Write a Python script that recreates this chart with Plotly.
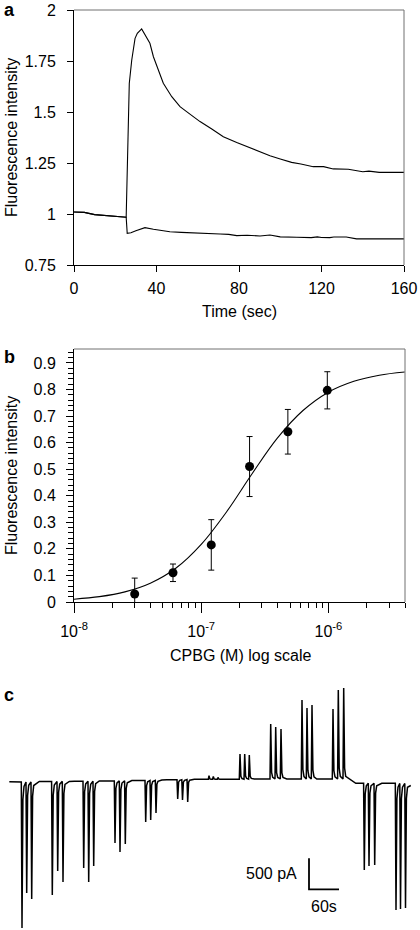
import numpy as np
import plotly.graph_objects as go

# ---------------- Panel a data ----------------
t_upper = [0, 5, 10, 15, 20, 24, 25.3, 26.8, 28, 29.6, 30.7, 32.8, 35.2, 36.8, 38.5, 40.9, 43.3,
           47.4, 51.4, 54.6, 61.1, 66.8, 72.4, 78.9, 86.9, 95, 100, 105.5, 110, 116, 121, 125.7,
           133, 140, 143, 148, 160]
f_upper = [1.01, 1.008, 0.997, 0.993, 0.987, 0.984, 0.984, 1.64, 1.755, 1.861, 1.886, 1.907, 1.869,
           1.837, 1.771, 1.706, 1.641, 1.575, 1.526, 1.502, 1.453, 1.417, 1.379, 1.35, 1.317, 1.286,
           1.27, 1.253, 1.245, 1.232, 1.232, 1.221, 1.219, 1.207, 1.21, 1.204, 1.204]

t_lower = [0, 5, 10, 15, 20, 24, 25.3, 25.8, 27.6, 30, 32, 34.4, 38.5, 42, 46.5, 52, 59.5, 65, 70.8,
           75, 78.9, 84, 90.2, 95, 100, 108, 115, 118, 120, 124, 126, 132, 137, 145, 160]
f_lower = [1.01, 1.008, 0.997, 0.993, 0.987, 0.984, 0.984, 0.905, 0.908, 0.918, 0.926, 0.933, 0.925,
           0.92, 0.913, 0.91, 0.908, 0.905, 0.902, 0.9, 0.894, 0.896, 0.892, 0.897, 0.888, 0.886,
           0.884, 0.888, 0.885, 0.884, 0.887, 0.887, 0.878, 0.878, 0.878]

a_xticks = [0, 40, 80, 120, 160]
a_yticks = [0.75, 1, 1.25, 1.5, 1.75, 2]
a_yticklabels = ["0.75", "1", "1.25", "1.5", "1.75", "2"]

# ---------------- Panel b data ----------------
cpbg_conc = [3e-8, 6e-8, 1.2e-7, 2.4e-7, 4.8e-7, 9.8e-7]
cpbg_resp = [0.03, 0.11, 0.215, 0.51, 0.641, 0.797]
cpbg_err = [0.06, 0.033, 0.095, 0.113, 0.084, 0.07]

fit_conc = [1e-8, 1.585e-8, 2.512e-8, 3.981e-8, 6.31e-8, 1e-7, 1.585e-7, 2.512e-7, 3.981e-7,
            6.31e-7, 1e-6, 1.585e-6, 2.512e-6, 3.981e-6]
fit_resp = [0.0106, 0.0201, 0.0381, 0.0708, 0.127, 0.217, 0.340, 0.483, 0.618, 0.721, 0.790,
            0.831, 0.854, 0.866]

b_yticks = [0, 0.1, 0.2, 0.3, 0.4, 0.5, 0.6, 0.7, 0.8, 0.9]
b_yticklabels = ["0", "0.1", "0.2", "0.3", "0.4", "0.5", "0.6", "0.7", "0.8", "0.9"]
b_xticks = [1e-8, 1e-7, 1e-6]
b_xticklabels = ["10<sup>-8</sup>", "10<sup>-7</sup>", "10<sup>-6</sup>"]
b_xminor = [m * d for d in (1e-8, 1e-7) for m in range(2, 10)] + [2e-6, 3e-6, 4e-6]

# ---------------- Panel c data (time s, current pA) ----------------
spike_t = [25.4, 34.8, 44.8, 86, 96.8, 107.4, 148.8, 158.8, 168.8, 211.4, 221.4, 232,
           272.8, 282.8, 293.4, 336.8, 346.4, 356.8, 399.4, 408, 417.4, 461.4, 470.8, 480,
           522.8, 532.8, 543.4, 585.4, 595.4, 605.4, 647.4, 658, 668.8, 710, 719.4, 730.8,
           773.4, 782.4, 792.4]
spike_peak = [-2360, -1795, -1892, -1828, -1440, -1618, -1392, -1618, -1360, -989, -1134, -1005,
              -650, -618, -505, -279, -295, -327, 97, 84, 68, 447, 447, 431,
              931, 882, 850, 1318, 1189, 1237, 1173, 1479, 1511, -1424, -1360, -1344,
              -2070, -2053, -2037]
spike_base = [-5, -5, -5, 3, 4, 5, 6, 7, 8, 12, 13, 14, 19, 20, 22, 30, 32, 34, 39, 39, 39,
              39, 40, 41, 44, 44, 44, 44, 44, 44, 44, 44, 44, -26, -26, -26, -27, -28, -29]

base_t = [0, 20, 60, 70, 120, 130, 180, 190, 245, 255, 305, 315, 370, 395, 425, 450, 490, 510,
          555, 575, 615, 640, 680, 685, 693, 700, 745, 765, 803]
base_I = [0, -5, 3, 3, 5, 6, 11, 12, 19, 19, 28, 30, 39, 39, 39, 39, 42, 44, 44, 44, 44, 44, 44,
          11, -26, -26, -26, -27, -61]

scale_t = 60     # s
scale_pA = 500   # pA

# ---------------- build panel c trace ----------------
pts = list(zip(base_t, base_I))
for t, p, b in zip(spike_t, spike_peak, spike_base):
    amp = p - b
    pts += [(t - 1.4, b), (t, p), (t + 1.8, b + 0.12 * amp), (t + 4.0, b + 0.03 * amp)]
pts.sort(key=lambda q: q[0])
c_t = [q[0] for q in pts]
c_I = [q[1] for q in pts]

W, H = 420, 930
FONT = "Liberation Sans, Arial, Helvetica, sans-serif"
FS = 16


def fx(px):
    return px / W


def fy(py):
    return 1 - py / H


fig = go.Figure()

# panel a
fig.add_trace(go.Scatter(x=t_upper, y=f_upper, mode="lines", line=dict(color="black", width=1.1),
                         xaxis="x", yaxis="y", showlegend=False))
fig.add_trace(go.Scatter(x=t_lower, y=f_lower, mode="lines", line=dict(color="black", width=1.1),
                         xaxis="x", yaxis="y", showlegend=False))

# panel b
fig.add_trace(go.Scatter(x=fit_conc, y=fit_resp, mode="lines", line=dict(color="black", width=1.1, shape="spline"),
                         xaxis="x2", yaxis="y2", showlegend=False))
fig.add_trace(go.Scatter(x=cpbg_conc, y=cpbg_resp, mode="markers",
                         marker=dict(color="black", size=9),
                         error_y=dict(type="data", array=cpbg_err, color="black", thickness=1, width=3),
                         xaxis="x2", yaxis="y2", showlegend=False))

# panel c
fig.add_trace(go.Scatter(x=c_t, y=c_I, mode="lines", line=dict(color="black", width=1.5),
                         xaxis="x3", yaxis="y3", showlegend=False))
sb_t0 = 599.4
sb_I0 = -1736
fig.add_trace(go.Scatter(x=[sb_t0, sb_t0, sb_t0 + scale_t], y=[sb_I0 + scale_pA, sb_I0, sb_I0],
                         mode="lines", line=dict(color="black", width=1.8),
                         xaxis="x3", yaxis="y3", showlegend=False))

tickfont = dict(family=FONT, size=FS, color="black")
common = dict(showline=True, linecolor="black", linewidth=1, ticks="outside", tickcolor="black",
              tickwidth=1, showgrid=False, zeroline=False, automargin=False, tickfont=tickfont)

fig.update_layout(
    width=W, height=H,
    margin=dict(l=0, r=0, t=0, b=0),
    paper_bgcolor="white", plot_bgcolor="white",
    font=dict(family=FONT, size=FS, color="black"),
    xaxis=dict(domain=[fx(74), fx(404)], range=[0, 160], tickmode="array", tickvals=a_xticks,
               ticklen=6, anchor="y", ticklabelstandoff=3, **common),
    yaxis=dict(domain=[fy(265), fy(10)], range=[0.75, 2], tickmode="array", tickvals=a_yticks,
               ticktext=a_yticklabels, ticklen=6, anchor="x", ticklabelstandoff=8, **common),
    xaxis2=dict(domain=[fx(74), fx(405)], type="log", range=[-8, np.log10(4e-6)], tickmode="array",
                tickvals=b_xticks, ticktext=b_xticklabels, ticklen=10, anchor="y2", ticklabelstandoff=5,
                minor=dict(tickmode="array", tickvals=b_xminor, ticklen=5, ticks="outside",
                           tickcolor="black", tickwidth=1, showgrid=False),
                **common),
    yaxis2=dict(domain=[fy(602), fy(349)], range=[0, 0.9526], tickmode="array", tickvals=b_yticks,
                ticktext=b_yticklabels, ticklen=7, anchor="x2", ticklabelstandoff=7,
                minor=dict(dtick=0.02, tick0=0, ticklen=5, ticks="outside", tickcolor="black",
                           tickwidth=1, showgrid=False),
                **common),
    xaxis3=dict(domain=[0, 1], range=[(0 - 9.3) * 2, (420 - 9.3) * 2], visible=False, anchor="y3",
                showgrid=False, zeroline=False),
    yaxis3=dict(domain=[0, fy(660)], range=[(781.7 - 930) * 16.13, (781.7 - 660) * 16.13],
                visible=False, anchor="x3", showgrid=False, zeroline=False),
)

# gray frame lines (top and right) for panels a and b
for xr, yr in (("x", "y"), ("x2", "y2")):
    fig.add_shape(type="line", xref=f"{xr} domain", yref=f"{yr} domain", x0=0, x1=1, y0=1, y1=1,
                  line=dict(color="#707070", width=1))
    fig.add_shape(type="line", xref=f"{xr} domain", yref=f"{yr} domain", x0=1, x1=1, y0=0, y1=1,
                  line=dict(color="#707070", width=1))

ann = []
# panel letters
for letter, py in (("a", 10), ("b", 357), ("c", 694.5)):
    ann.append(dict(text=f"<b>{letter}</b>", x=fx(2), y=fy(py), xref="paper", yref="paper",
                    xanchor="left", yanchor="middle", showarrow=False,
                    font=dict(family=FONT, size=18, color="black")))
# axis titles
ann.append(dict(text="Time (sec)", x=fx(239), y=fy(311), xref="paper", yref="paper",
                xanchor="center", yanchor="middle", showarrow=False, font=dict(family=FONT, size=FS)))
ann.append(dict(text="CPBG (M) log scale", x=fx(240), y=fy(655), xref="paper", yref="paper",
                xanchor="center", yanchor="middle", showarrow=False, font=dict(family=FONT, size=FS)))
for cy in (138, 476):
    ann.append(dict(text="Fluorescence intensity", x=fx(11), y=fy(cy), xref="paper", yref="paper",
                    xanchor="center", yanchor="middle", textangle=-90, showarrow=False,
                    font=dict(family=FONT, size=FS)))
# scale bar labels
ann.append(dict(text=f"{scale_pA} pA", x=sb_t0 - 20, y=sb_I0 + 0.5 * scale_pA, xref="x3", yref="y3",
                xanchor="right", yanchor="middle", showarrow=False, font=dict(family=FONT, size=16)))
ann.append(dict(text=f"{scale_t}s", x=sb_t0 + 0.5 * scale_t, y=sb_I0 - 280, xref="x3", yref="y3",
                xanchor="center", yanchor="middle", showarrow=False, font=dict(family=FONT, size=16)))
fig.update_layout(annotations=ann)

fig.write_html("out.html", config={"displayModeBar": False},
               post_script="document.body.style.margin='0px';document.body.style.overflow='hidden';")
